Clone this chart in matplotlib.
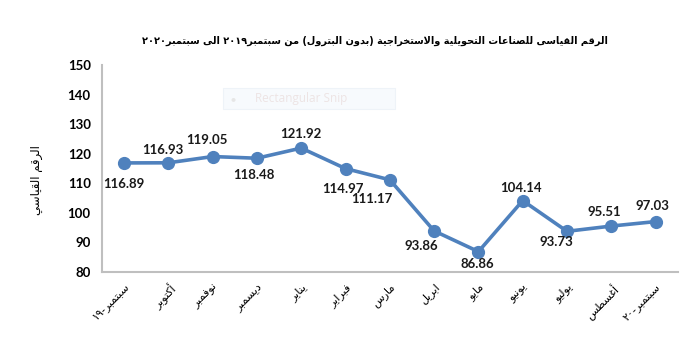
import matplotlib
matplotlib.use('Agg')
import matplotlib.pyplot as plt
import matplotlib.transforms as mtransforms
from matplotlib.patches import Rectangle

plt.rcParams['font.family'] = ['Lato', 'DejaVu Sans']

# data
months = ['سبتمبر-١٩', 'أكتوبر', 'نوفمبر', 'ديسمبر', 'يناير', 'فبراير', 'مارس',
          'ابريل', 'مايو', 'يونيو', 'يوليو', 'أغسطس', 'سبتمبر-٢٠']
values = [116.89, 116.93, 119.05, 118.48, 121.92, 114.97, 111.17,
          93.86, 86.86, 104.14, 93.73, 95.51, 97.03]
title = 'الرقم القياسى للصناعات التحويلية والاستخراجية (بدون البترول) من سبتمبر٢٠١٩ الى سبتمبر٢٠٢٠'
ylabel = 'الرقم القياسي'

# label offsets in points (dx, dy)
label_off = [(0, -15), (-4, 9), (-4, 12), (-2, -12), (0, 10), (-2, -15), (-13, -14),
             (-9, -11), (-1, -9), (-1, 9), (-8, -8), (-5, 10), (-2, 11)]

# ---- minimal arabic shaping (presentation forms) ----
FORMS = {
    'ء': (0xFE80, 1), 'آ': (0xFE81, 2), 'أ': (0xFE83, 2), 'ؤ': (0xFE85, 2),
    'إ': (0xFE87, 2), 'ئ': (0xFE89, 4), 'ا': (0xFE8D, 2), 'ب': (0xFE8F, 4),
    'ة': (0xFE93, 2), 'ت': (0xFE95, 4), 'ث': (0xFE99, 4), 'ج': (0xFE9D, 4),
    'ح': (0xFEA1, 4), 'خ': (0xFEA5, 4), 'د': (0xFEA9, 2), 'ذ': (0xFEAB, 2),
    'ر': (0xFEAD, 2), 'ز': (0xFEAF, 2), 'س': (0xFEB1, 4), 'ش': (0xFEB5, 4),
    'ص': (0xFEB9, 4), 'ض': (0xFEBD, 4), 'ط': (0xFEC1, 4), 'ظ': (0xFEC5, 4),
    'ع': (0xFEC9, 4), 'غ': (0xFECD, 4), 'ف': (0xFED1, 4), 'ق': (0xFED5, 4),
    'ك': (0xFED9, 4), 'ل': (0xFEDD, 4), 'م': (0xFEE1, 4), 'ن': (0xFEE5, 4),
    'ه': (0xFEE9, 4), 'و': (0xFEED, 2), 'ى': (0xFEEF, 2), 'ي': (0xFEF1, 4),
}
LAMALEF = {'ا': 0xFEFB, 'أ': 0xFEF7, 'إ': 0xFEF9, 'آ': 0xFEF5}
MIRROR = {'(': ')', ')': '('}


def shape(s):
    # merge lam-alef
    chars = []
    i = 0
    while i < len(s):
        if s[i] == 'ل' and i + 1 < len(s) and s[i + 1] in LAMALEF:
            chars.append(('LA', s[i + 1]))
            i += 2
        else:
            chars.append(s[i])
            i += 1

    def nforms(c):
        if isinstance(c, tuple):
            return 2
        return FORMS.get(c, (0, 0))[1]

    out = []
    for k, c in enumerate(chars):
        prev = chars[k - 1] if k > 0 else None
        nxt = chars[k + 1] if k + 1 < len(chars) else None
        join_prev = prev is not None and nforms(prev) == 4 and nforms(c) >= 2
        join_next = nxt is not None and nforms(c) == 4 and nforms(nxt) >= 2
        if isinstance(c, tuple):
            out.append(chr(LAMALEF[c[1]] + (1 if join_prev else 0)))
            continue
        if c not in FORMS:
            out.append(c)
            continue
        base, n = FORMS[c]
        if n == 1:
            off = 0
        elif n == 2:
            off = 1 if join_prev else 0
        else:
            if join_prev and join_next:
                off = 3
            elif join_prev:
                off = 1
            elif join_next:
                off = 2
            else:
                off = 0
        out.append(chr(base + off))
    text = ''.join(out)

    # visual order: digit runs keep LTR, rest reversed
    runs = []
    for ch in text:
        ltr = ch.isdigit() or ch == '.'
        if runs and runs[-1][0] == ltr:
            runs[-1][1].append(ch)
        else:
            runs.append([ltr, [ch]])
    vis = []
    for ltr, cs in reversed(runs):
        if ltr:
            vis.append(''.join(cs))
        else:
            vis.append(''.join(MIRROR.get(x, x) for x in reversed(cs)))
    return ''.join(vis)


blue = '#4F81BD'
fig = plt.figure(figsize=(6.98, 3.54), dpi=100)
ax = fig.add_axes([0.146, 0.232, 0.825, 0.584])

x = list(range(len(values)))
ax.plot(x, values, color=blue, lw=2.6, marker='o', ms=8.5, zorder=3)

for xi, v, (dx, dy) in zip(x, values, label_off):
    ax.annotate('%.2f' % v, (xi, v), xytext=(dx, dy), textcoords='offset points',
                ha='center', va='center', fontsize=9.5, fontweight='bold', color='#1a1a1a')

ax.set_xlim(-0.5, len(values) - 0.5)
ax.set_ylim(80, 150)
ax.set_yticks(range(80, 151, 10))
ax.set_xticks(x)
ax.set_xticklabels([shape(m) for m in months], rotation=45, ha='right',
                   rotation_mode='anchor', family=['DejaVu Sans'], fontsize=8)
offset = mtransforms.ScaledTranslation(5 / 72, 0, fig.dpi_scale_trans)
for lab in ax.get_xticklabels():
    lab.set_transform(lab.get_transform() + offset)

for lab in ax.get_yticklabels():
    lab.set_fontweight('bold')
    lab.set_fontsize(9.5)
ax.tick_params(axis='both', length=0)
ax.tick_params(axis='x', pad=7)
ax.tick_params(axis='y', pad=8)

for s in ['top', 'right']:
    ax.spines[s].set_visible(False)
for s in ['left', 'bottom']:
    ax.spines[s].set_color('#BFBFBF')
    ax.spines[s].set_linewidth(1.5)

fig.text(0.537, 0.885, shape(title), ha='center', va='center', fontsize=7,
         fontweight='bold', family=['DejaVu Sans'])
fig.text(0.053, 0.49, shape(ylabel), ha='center', va='center', rotation=90,
         fontsize=8.5, family=['DejaVu Sans'])

# faint snipping-tool overlay seen in the source image
fig.patches.append(Rectangle((0.319, 0.692), 0.247, 0.059, transform=fig.transFigure,
                             facecolor='#F7FAFD', edgecolor='#EEF3F8', lw=0.8, zorder=0))
fig.text(0.334, 0.722, '\u25CF', ha='center', va='center', fontsize=6, color='#E6E6E6')
fig.text(0.365, 0.722, 'Rectangular Snip', ha='left', va='center', fontsize=8.5,
         color='#EDE4E4', family=['Open Sans'])

fig.savefig('out.png', dpi=100)
